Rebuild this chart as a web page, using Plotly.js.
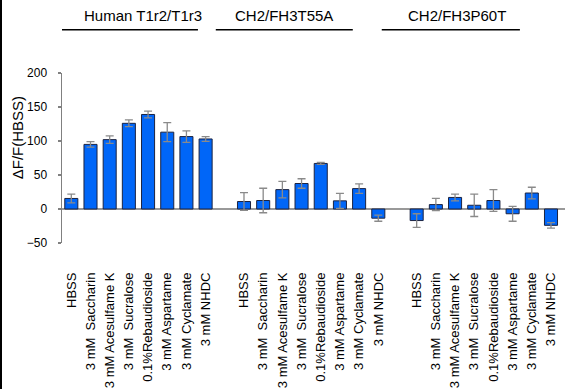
<!DOCTYPE html>
<html>
<head>
<meta charset="utf-8">
<script src="https://cdn.plot.ly/plotly-3.0.1.min.js"></script>
<style>
  html, body { margin: 0; padding: 0; background: #fff; }
  #wrap { position: relative; width: 565px; height: 389px; overflow: hidden; }
  #chart { width: 565px; height: 389px; }
  #edge { position: absolute; left: 0; top: 0; width: 2px; height: 389px; background: #000; }
</style>
</head>
<body>
<div id="wrap"><div id="chart"></div><div id="edge"></div></div>
<script>
// ---- data ----
const groupNames = ["Human T1r2/T1r3", "CH2/FH3T55A", "CH2/FH3P60T"];
const stimuli = ["HBSS", "3 mM  Saccharin", "3 mM Acesulfame K", "3 mM  Sucralose",
                 "0.1%Rebaudioside", "3 mM Aspartame", "3 mM Cyclamate", "3 mM NHDC"];
const humanValues = [15.5, 95, 102, 126, 139, 113, 106.5, 103];
const humanErrors = [6.5, 4, 5.5, 5, 5, 14, 8.5, 3.5];
const t55aValues  = [11, 12.5, 28.5, 37.5, 67, 12, 30, -13.5];
const t55aErrors  = [13, 18, 12, 7, 1.5, 11, 7, 4.5];
const p60tValues  = [-17, 6.5, 17, 5.5, 12.5, -7, 23.5, -24];
const p60tErrors  = [10, 9, 5, 16.5, 16, 11, 8.5, 4];
const yTicks = [-50, 0, 50, 100, 150, 200];

// ---- build category positions (one empty slot between groups) ----
const groupVals = [humanValues, t55aValues, p60tValues];
const groupErrs = [humanErrors, t55aErrors, p60tErrors];
const slot = stimuli.length + 1;
let xs = [], ys = [], es = [], tv = [], tt = [];
groupVals.forEach((vals, g) => {
  vals.forEach((v, i) => {
    const pos = g * slot + i;
    xs.push(pos); ys.push(v); es.push(groupErrs[g][i]);
    tv.push(pos); tt.push(stimuli[i]);
  });
});

const trace = {
  type: 'bar', x: xs, y: ys, width: 0.68,
  marker: { color: '#0066f8', line: { color: '#1c2340', width: 1 } },
  error_y: { type: 'data', array: es, visible: true, color: '#8a8a8a', thickness: 1.3, width: 4 },
  hoverinfo: 'none'
};

const font = { family: 'Liberation Sans, Arial, sans-serif', color: '#000' };

// group header positions (in category units)
const headerLines = [[-0.59, 6.6], [7.53, 14.67], [16.18, 23.38]];
const headerText = [3.73, 11.08, 20.12];

const shapes = headerLines.map(([a, b]) => ({
  type: 'line', xref: 'x', yref: 'paper', x0: a, x1: b, y0: 1.255, y1: 1.255,
  line: { color: '#000', width: 1.5 }
}));
const annotations = groupNames.map((n, i) => ({
  text: n, xref: 'x', yref: 'paper', x: headerText[i], y: 1.34,
  xanchor: 'center', yanchor: 'middle', showarrow: false,
  font: Object.assign({}, font, { size: 15 })
}));
annotations.push({
  text: 'ΔF/F(HBSS)', xref: 'paper', yref: 'paper', x: -0.0895, y: 0.622,
  xanchor: 'center', yanchor: 'middle', textangle: -90, showarrow: false,
  font: Object.assign({}, font, { size: 15 })
});

const layout = {
  width: 565, height: 389,
  margin: { l: 62, r: 0, t: 73, b: 146 },
  paper_bgcolor: '#fff', plot_bgcolor: '#fff',
  showlegend: false, font: font,
  xaxis: {
    range: [-0.485, 25.73], tickvals: tv, ticktext: tt, tickangle: -90,
    ticks: '', showline: false, showgrid: false, zeroline: false,
    ticklabelstandoff: 26,
    tickfont: Object.assign({}, font, { size: 13 })
  },
  yaxis: {
    range: [-50, 200], tickvals: yTicks, ticks: 'outside', ticklen: 3,
    tickcolor: '#808080', tickwidth: 1.3,
    showline: true, linecolor: '#808080', linewidth: 1.5,
    showgrid: false, zeroline: true, zerolinecolor: '#999', zerolinewidth: 2,
    ticklabelstandoff: 8,
    tickfont: Object.assign({}, font, { size: 12 })
  },
  shapes: shapes, annotations: annotations
};

Plotly.newPlot('chart', [trace], layout, { staticPlot: true, displayModeBar: false });
</script>
</body>
</html>
